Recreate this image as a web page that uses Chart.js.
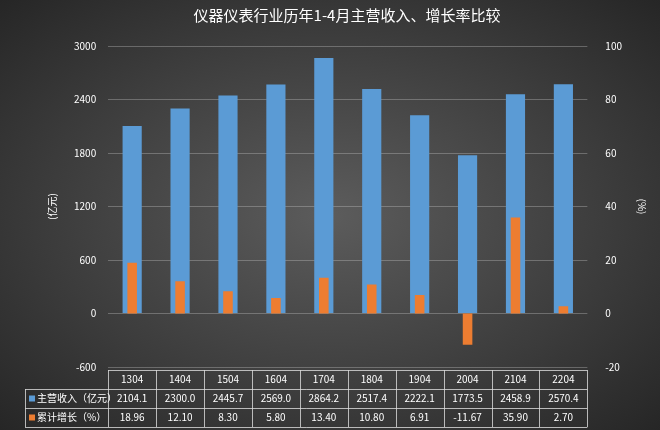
<!DOCTYPE html>
<html><head><meta charset="utf-8">
<script src="https://cdn.jsdelivr.net/npm/chart.js@4.4.0/dist/chart.umd.min.js"></script>
<style>
html,body{margin:0;padding:0;}
#wrap{width:660px;height:430px;background:radial-gradient(ellipse at center,#5c5c5c 0%,#3c3c3c 60%,#262626 100%);}
</style></head><body>
<div id="wrap"><canvas id="c" width="660" height="430"></canvas></div>
<script>
const categories = ['1304','1404','1504','1604','1704','1804','1904','2004','2104','2204'];
const revenue = [2104.1,2300.0,2445.7,2569.0,2864.2,2517.4,2222.1,1773.5,2458.9,2570.4];
const growth = [18.96,12.10,8.30,5.80,13.40,10.80,6.91,-11.67,35.90,2.70];
const revenueLabel = '主营收入（亿元）';
const growthLabel = '累计增长（%）';
const BLUE = '#5b9bd5', ORANGE = '#ed7d31';
const FONT = '"Noto Sans CJK SC", "Noto Sans", sans-serif';

const tablePlugin = {
  id: 'table',
  afterDraw(chart) {
    const ctx = chart.ctx, x = chart.scales.x;
    const left = 25, right = chart.chartArea.right;
    const rows = [370, 389, 408, 427];
    ctx.save();
    ctx.strokeStyle = 'rgba(220,220,220,0.8)';
    ctx.lineWidth = 1;
    rows.forEach((y, i) => {
      ctx.beginPath();
      ctx.moveTo(i === 0 ? chart.chartArea.left : left, y + 0.5);
      ctx.lineTo(right, y + 0.5);
      ctx.stroke();
    });
    const step = x.getPixelForValue(1) - x.getPixelForValue(0);
    const xs = [left, chart.chartArea.left];
    for (let i = 0; i < categories.length; i++) xs.push(x.getPixelForValue(i) + step / 2);
    xs.forEach((xx, i) => {
      ctx.beginPath();
      ctx.moveTo(Math.round(xx) + 0.5, i === 0 ? rows[1] : rows[0]);
      ctx.lineTo(Math.round(xx) + 0.5, rows[3]);
      ctx.stroke();
    });
    ctx.fillStyle = '#fff';
    ctx.font = '10px ' + FONT;
    ctx.textAlign = 'center';
    ctx.textBaseline = 'middle';
    categories.forEach((c, i) => {
      const px = x.getPixelForValue(i);
      ctx.fillText(c, px, (rows[0] + rows[1]) / 2);
      ctx.fillText(revenue[i].toFixed(1), px, (rows[1] + rows[2]) / 2);
      ctx.fillText(growth[i].toFixed(2), px, (rows[2] + rows[3]) / 2);
    });
    ctx.textAlign = 'left';
    ctx.fillStyle = BLUE; ctx.fillRect(29, (rows[1] + rows[2]) / 2 - 3, 6, 6);
    ctx.fillStyle = ORANGE; ctx.fillRect(29, (rows[2] + rows[3]) / 2 - 3, 6, 6);
    ctx.fillStyle = '#fff';
    ctx.fillText(revenueLabel, 37, (rows[1] + rows[2]) / 2);
    ctx.fillText(growthLabel, 37, (rows[2] + rows[3]) / 2);
    ctx.restore();
  }
};

new Chart(document.getElementById('c'), {
  type: 'bar',
  data: {
    labels: categories,
    datasets: [
      { label: revenueLabel, data: revenue, backgroundColor: BLUE, yAxisID: 'y', barPercentage: 0.4, categoryPercentage: 1, grouped: false, order: 2 },
      { label: growthLabel, data: growth, backgroundColor: ORANGE, yAxisID: 'y1', barPercentage: 0.2, categoryPercentage: 1, grouped: false, order: 1 }
    ]
  },
  options: {
    responsive: false,
    animation: false,
    layout: { padding: { left: 42, right: 8, top: 0, bottom: 55 } },
    plugins: {
      legend: { display: false },
      tooltip: { enabled: false },
      title: { display: true, text: '仪器仪表行业历年1-4月主营收入、增长率比较', color: '#fff', font: { family: FONT, size: 15, weight: 'normal' }, padding: { top: 6, bottom: 22 } }
    },
    scales: {
      x: { ticks: { display: false }, grid: { display: false }, border: { display: false } },
      y: {
        min: -600, max: 3000,
        ticks: { stepSize: 600, color: '#fff', font: { family: FONT, size: 10 }, padding: 12, callback: v => String(v) },
        grid: { color: 'rgba(200,200,200,0.35)', drawTicks: false },
        border: { display: false },
        title: { display: true, text: '(亿元)', color: '#fff', font: { family: FONT, size: 10 } }
      },
      y1: {
        position: 'right', min: -20, max: 100,
        ticks: { stepSize: 20, color: '#fff', font: { family: FONT, size: 10 }, padding: 10, callback: v => String(v) },
        grid: { display: false },
        border: { display: false },
        title: { display: true, text: '(%)', color: '#fff', font: { family: FONT, size: 10 } }
      }
    }
  },
  plugins: [tablePlugin]
});
</script>
</body></html>
